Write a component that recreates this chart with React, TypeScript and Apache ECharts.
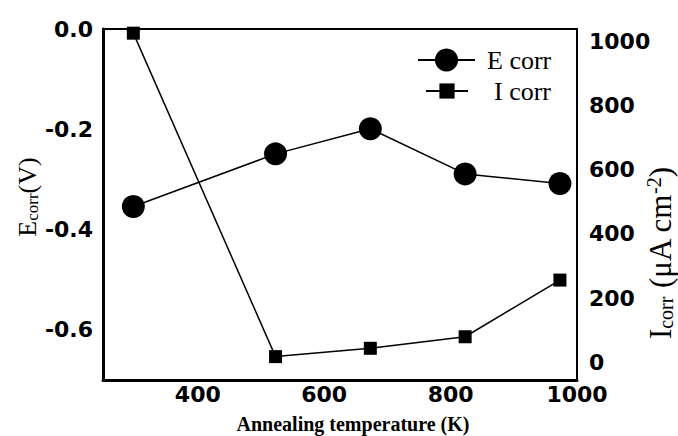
import React, { useEffect, useRef } from "react";
import * as echarts from "echarts";

const temperatures = [298, 523, 673, 823, 973];
const eCorr = [-0.354, -0.249, -0.199, -0.289, -0.308];
const iCorr = [1027, 17, 43, 79, 256];
const xTicks = [400, 600, 800, 1000];
const leftTicks = [-0.6, -0.4, -0.2, 0];
const rightTicks = [0, 200, 400, 600, 800, 1000];

const SANS = "'DejaVu Sans', 'Liberation Sans', Arial, sans-serif";
const SERIF = "'Liberation Serif', 'Times New Roman', serif";

export default function App() {
  const ref = useRef<HTMLDivElement>(null);
  useEffect(() => {
    if (!ref.current) return;
    const chart = echarts.init(ref.current, null, { renderer: "svg" });
    const labelStyle = { color: "#000", fontFamily: SANS, fontWeight: "bold" as const, fontSize: 22 };
    chart.setOption({
      animation: false,
      backgroundColor: "#fff",
      grid: {
        left: 103, right: 101, top: 29, bottom: 56,
        show: true, borderColor: "#000", borderWidth: 2, backgroundColor: "transparent",
      },
      legend: [
        {
          data: ["E corr"], left: 412, top: 42, itemWidth: 57, itemHeight: 29,
          textStyle: { fontFamily: SERIF, fontSize: 26, color: "#000", padding: [0, 0, 0, 7] },
          selectedMode: false,
        },
        {
          data: ["I corr"], left: 420, top: 73, itemWidth: 42, itemHeight: 19,
          textStyle: { fontFamily: SERIF, fontSize: 26, color: "#000", padding: [0, 0, 0, 21] },
          selectedMode: false,
        },
      ],
      xAxis: {
        type: "value", min: 250, max: 1000,
        axisLine: { show: true, onZero: false, lineStyle: { color: "#000", width: 3 } },
        axisTick: { show: false },
        splitLine: { show: false },
        axisLabel: { ...labelStyle, margin: 3, customValues: xTicks, formatter: (v: number) => String(v) },
      },
      yAxis: [
        {
          type: "value", min: -0.7, max: 0,
          axisLine: { show: true, onZero: false, lineStyle: { color: "#000", width: 3 } },
          axisTick: { show: false },
          splitLine: { show: false },
          axisLabel: {
            ...labelStyle, margin: 10, customValues: leftTicks,
            formatter: (v: number) => v.toFixed(1),
          },
        },
        {
          type: "value", min: -56, max: 1040, position: "right",
          axisLine: { show: true, onZero: false, lineStyle: { color: "#000", width: 2 } },
          axisTick: { show: false },
          splitLine: { show: false },
          axisLabel: { ...labelStyle, margin: 12, customValues: rightTicks, formatter: (v: number) => String(v) },
        },
      ],
      graphic: [
        {
          type: "text", x: 27, y: 197, rotation: Math.PI / 2,
          style: {
            text: "E{sub|corr}(V)", fontFamily: SERIF, fontSize: 26, fill: "#000",
            align: "center", verticalAlign: "middle",
            rich: { sub: { fontFamily: SERIF, fontSize: 17, padding: [10, 0, 0, 0], fill: "#000" } },
          },
        },
        {
          type: "text", x: 660, y: 253, rotation: Math.PI / 2,
          style: {
            text: "I{sub|corr} (μA cm{sup|-2})", fontFamily: SERIF, fontSize: 31, fill: "#000",
            align: "center", verticalAlign: "middle",
            rich: {
              sub: { fontFamily: SERIF, fontSize: 20, padding: [12, 0, 0, 0], fill: "#000" },
              sup: { fontFamily: SERIF, fontSize: 20, padding: [0, 0, 12, 0], fill: "#000" },
            },
          },
        },
        {
          type: "text", x: 353, y: 424,
          style: {
            text: "Annealing temperature (K)", fontFamily: SERIF, fontSize: 20, fontWeight: "bold",
            fill: "#000", align: "center", verticalAlign: "middle",
          },
        },
      ],
      series: [
        {
          name: "E corr", type: "line", yAxisIndex: 0,
          data: temperatures.map((t, i) => [t, eCorr[i]]),
          symbol: "circle", symbolSize: 23,
          itemStyle: { color: "#000" },
          lineStyle: { color: "#000", width: 1.5 },
          z: 3,
        },
        {
          name: "I corr", type: "line", yAxisIndex: 1,
          data: temperatures.map((t, i) => [t, iCorr[i]]),
          symbol: "rect", symbolSize: 13,
          itemStyle: { color: "#000" },
          lineStyle: { color: "#000", width: 1.5 },
          z: 2,
        },
      ],
    });
    return () => chart.dispose();
  }, []);
  return <div ref={ref} style={{ width: 678, height: 436, position: "absolute", left: 0, top: 0 }} />;
}
